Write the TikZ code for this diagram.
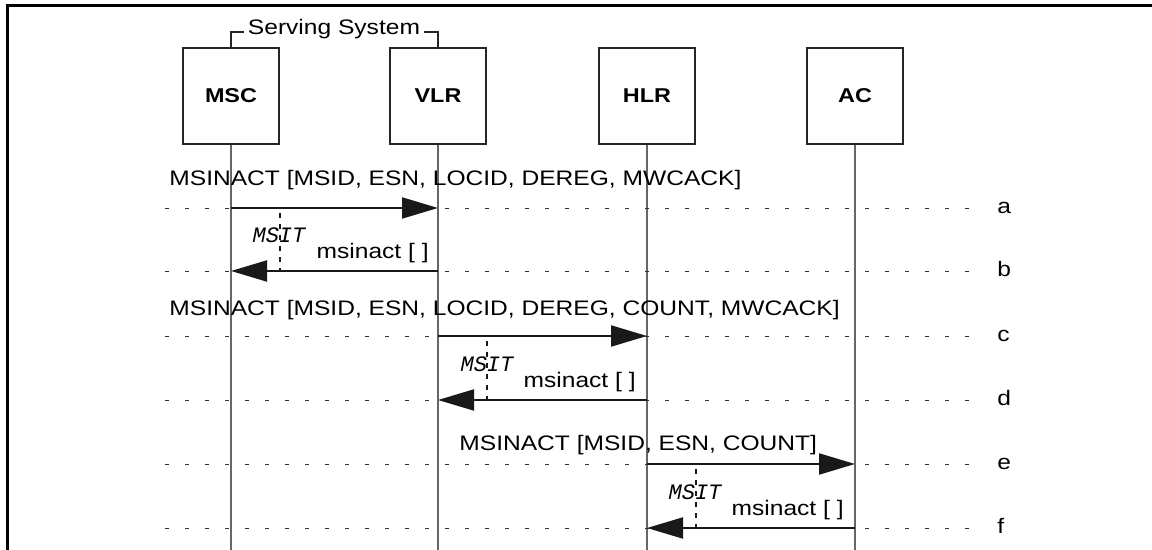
\documentclass[tikz,border=0pt]{standalone}
\usepackage{fontspec}
\setmainfont[FakeStretch=1.17]{Liberation Sans}
\newfontfamily\timerfont{Liberation Mono}
\usepackage{tikz}
\usetikzlibrary{arrows.meta}
\tikzset{
	entity node/.style={rectangle,draw=black!85,line width=1pt,minimum width=48pt,minimum height=48pt,inner sep=0pt,font=\bfseries},
	life line/.style={draw=black!60,line width=0.7pt},
	grid line/.style={draw=black!80,line width=0.45pt,dash pattern=on 2pt off 8pt},
	msg/.style={->,draw=black!90,line width=1pt},
	timer/.style={draw=black!90,line width=1pt,dash pattern=on 2.5pt off 3pt},
	timer label/.style={inner sep=0pt,font=\timerfont\itshape\fontsize{11}{13}\selectfont},
	msg label/.style={inner sep=0pt},
	row label/.style={inner sep=0pt,anchor=mid west}
}

\begin{document}
\begin{tikzpicture}[x=0.5pt,y=-0.5pt,>={Triangle[length=18pt,width=10.5pt]},
	    font=\fontsize{10.5}{12.6}\selectfont]
	    \useasboundingbox (0,0) rectangle (1152,550);
	    \draw [line width=1.5pt] (7,550) -- (7,5.5) -- (1152,5.5);
	    \node [entity node] (msc) at (231,96) {MSC};
	    \node [entity node] (vlr) at (438,96) {VLR};
	    \node [entity node] (hlr) at (647,96) {HLR};
	    \node [entity node] (ac) at (855,96) {AC};
	    \coordinate (bottom) at (0,550);
	    \foreach \n in {msc,vlr,hlr,ac}
	      \draw [life line] (\n.south) -- (\n.south |- bottom);
	    \node [inner sep=2pt,anchor=base] (serving) at (334,35) {Serving System};
	    \draw [draw=black!85,line width=0.6pt] (msc.north) |- ([yshift=1.5pt]serving.base west);
	    \draw [draw=black!85,line width=0.6pt] (vlr.north) |- ([yshift=1.5pt]serving.base east);
	    \foreach \r/\y in {a/208,b/271,c/336,d/400,e/464,f/528}{
	      \coordinate (row \r) at (165,\y);
	      \draw [grid line] (row \r) -- (982,\y);
	      \node [row label] (lab \r) at (997,\y) {\r};
	    }
	    \draw [msg] (msc |- row a) -- (vlr |- row a);
	    \node [msg label,anchor=base west] (msg a) at (169,186) {MSINACT [MSID, ESN, LOCID, DEREG, MWCACK]};
	    \draw [msg] (vlr |- row b) -- (msc |- row b);
	    \draw [timer] ([yshift=-2.5pt]msc.east |- row a) -- (msc.east |- row b);
	    \node [msg label,anchor=base east] (msg b) at (429,259) {msinact [ ]};
	    \node [timer label,anchor=base] (timer b) at (279,243) {MSIT};
	    \draw [msg] (vlr |- row c) -- (hlr |- row c);
	    \node [msg label,anchor=base west] (msg c) at (169,316) {MSINACT [MSID, ESN, LOCID, DEREG, COUNT, MWCACK]};
	    \draw [msg] (hlr |- row d) -- (vlr |- row d);
	    \draw [timer] ([yshift=-2.5pt]vlr.east |- row c) -- (vlr.east |- row d);
	    \node [msg label,anchor=base east] (msg d) at (636,388) {msinact [ ]};
	    \node [timer label,anchor=base] (timer d) at (487,372) {MSIT};
	    \draw [msg] (hlr |- row e) -- (ac |- row e);
	    \node [msg label,anchor=base west] (msg e) at (459,451) {MSINACT [MSID, ESN, COUNT]};
	    \draw [msg] (ac |- row f) -- (hlr |- row f);
	    \draw [timer] ([yshift=-2.5pt]hlr.east |- row e) -- (hlr.east |- row f);
	    \node [msg label,anchor=base east] (msg f) at (844,516) {msinact [ ]};
	    \node [timer label,anchor=base] (timer f) at (695,500) {MSIT};
	  \end{tikzpicture}
\end{document}
